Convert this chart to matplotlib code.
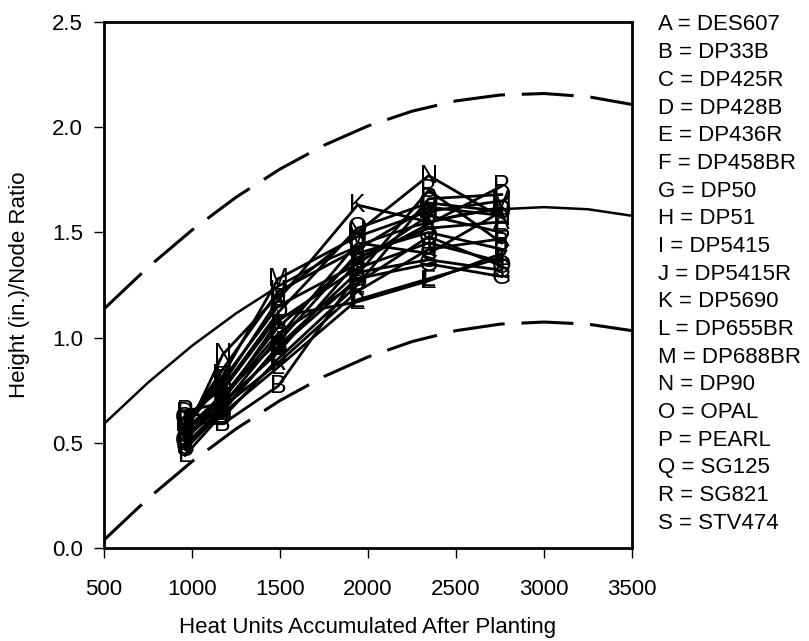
import matplotlib
matplotlib.use("Agg")
import matplotlib.pyplot as plt

plt.rcParams["font.family"] = ["Liberation Sans", "DejaVu Sans"]

# ── Data ─────────────────────────────────────────────────────────────────────

heat_units = [960, 1175, 1490, 1940, 2345, 2760]

letters = list("ABCDEFGHIJKLMNOPQRS")
varieties = ["DES607", "DP33B", "DP425R", "DP428B", "DP436R", "DP458BR", "DP50",
             "DP51", "DP5415", "DP5415R", "DP5690", "DP655BR", "DP688BR", "DP90",
             "OPAL", "PEARL", "SG125", "SG821", "STV474"]

ratios = [
    [0.55, 0.72, 1.05, 1.38, 1.52, 1.55],   # A
    [0.60, 0.59, 0.77, 1.30, 1.70, 1.45],   # B
    [0.52, 0.68, 1.00, 1.45, 1.40, 1.60],   # C
    [0.64, 0.62, 0.90, 1.25, 1.66, 1.68],   # D
    [0.50, 0.75, 1.10, 1.17, 1.27, 1.40],   # E
    [0.57, 0.80, 1.15, 1.35, 1.58, 1.50],   # F
    [0.48, 0.66, 0.95, 1.28, 1.35, 1.29],   # G
    [0.58, 0.85, 1.22, 1.42, 1.62, 1.58],   # H
    [0.53, 0.70, 1.08, 1.33, 1.45, 1.36],   # I
    [0.56, 0.73, 0.98, 1.40, 1.50, 1.42],   # J
    [0.61, 0.78, 1.18, 1.63, 1.55, 1.62],   # K
    [0.44, 0.64, 0.86, 1.18, 1.28, 1.38],   # L
    [0.59, 0.82, 1.28, 1.48, 1.60, 1.65],   # M
    [0.54, 0.92, 1.20, 1.50, 1.77, 1.57],   # N
    [0.62, 0.76, 1.12, 1.52, 1.64, 1.60],   # O
    [0.65, 0.69, 0.93, 1.36, 1.54, 1.72],   # P
    [0.51, 0.71, 1.02, 1.26, 1.48, 1.34],   # Q
    [0.49, 0.67, 0.88, 1.22, 1.42, 1.47],   # R
    [0.47, 0.65, 0.96, 1.31, 1.37, 1.32],   # S
]

# reference curve and its upper / lower limits, read every 250 heat units
curve_x = [500, 750, 1000, 1250, 1500, 1750, 2000, 2250, 2500, 2750, 3000, 3250, 3500]
curve_mid = [0.590, 0.786, 0.961, 1.115, 1.249, 1.363, 1.455, 1.527, 1.579,
             1.610, 1.620, 1.610, 1.579]
curve_upper = [1.136, 1.334, 1.511, 1.667, 1.801, 1.914, 2.006, 2.076, 2.125,
               2.153, 2.160, 2.145, 2.108]
curve_lower = [0.038, 0.235, 0.411, 0.566, 0.701, 0.815, 0.908, 0.981, 1.033,
               1.064, 1.074, 1.064, 1.033]

# ── Figure ───────────────────────────────────────────────────────────────────

W, H = 809, 641
fig = plt.figure(figsize=(W / 100, H / 100), dpi=100)
ax = fig.add_axes([104 / W, 1 - 548 / H, 528 / W, 526 / H])

dash = (0, (17, 5.5))
ax.plot(curve_x, curve_mid, color="black", lw=1.8)
ax.plot(curve_x, curve_upper, color="black", lw=2.2, linestyle=dash)
ax.plot(curve_x, curve_lower, color="black", lw=2.2, linestyle=dash)

for letter, ys in zip(letters, ratios):
    ax.plot(heat_units, ys, color="black", lw=2)
    for x, y in zip(heat_units, ys):
        ax.text(x, y, letter, fontsize=18, ha="center", va="center")

ax.set_xlim(500, 3500)
ax.set_ylim(0, 2.5)
ax.set_xticks([500, 1000, 1500, 2000, 2500, 3000, 3500])
ax.set_yticks([0.0, 0.5, 1.0, 1.5, 2.0, 2.5])
ax.set_yticklabels([f"{v:.1f}" for v in [0.0, 0.5, 1.0, 1.5, 2.0, 2.5]])
ax.tick_params(axis="both", direction="out", length=7, width=1, labelsize=16)
ax.tick_params(axis="x", pad=15)
ax.tick_params(axis="y", pad=8)
for s in ax.spines.values():
    s.set_linewidth(2)

fig.text((104 + 632) / 2 / W, 1 - 628 / H, "Heat Units Accumulated After Planting",
         fontsize=16, ha="center", va="center")
fig.text(20 / W, 1 - 285 / H, "Height (in.)/Node Ratio", fontsize=16,
         rotation=90, ha="center", va="center")

# key of letters
for i, (letter, name) in enumerate(zip(letters, varieties)):
    fig.text(658 / W, 1 - (25 + i * 27.67) / H, f"{letter} = {name}",
             fontsize=16, ha="left", va="center")

fig.savefig("out.png", dpi=100)
